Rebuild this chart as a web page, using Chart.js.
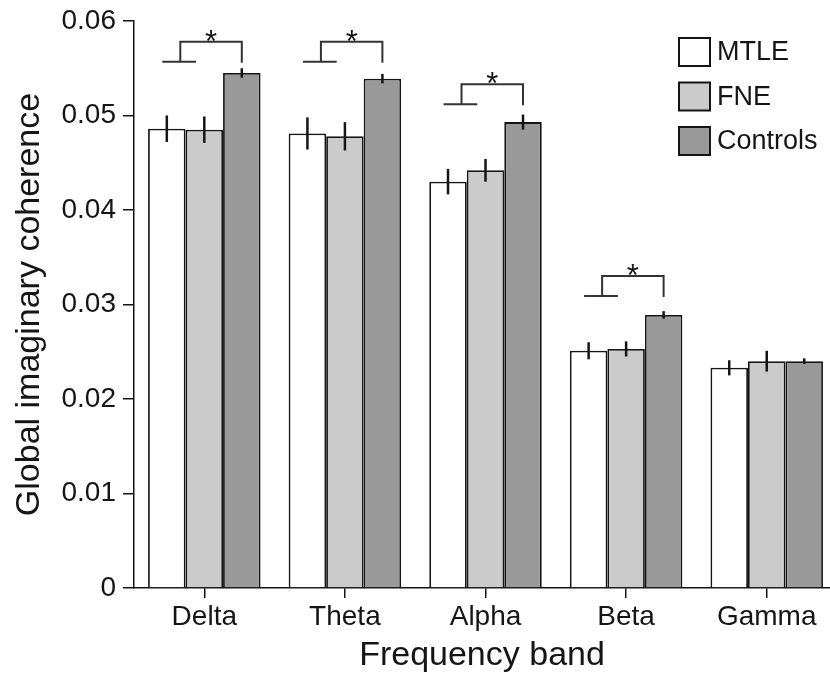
<!DOCTYPE html>
<html>
<head>
<meta charset="utf-8">
<title>Global imaginary coherence</title>
<script src="https://cdn.jsdelivr.net/npm/chart.js@4.4.1/dist/chart.umd.min.js"></script>
<style>
  html, body { margin: 0; padding: 0; background: #fff; overflow: hidden; }
  #chart { display: block; width: 830px; height: 676px; }
</style>
</head>
<body>
<canvas id="chart" width="830" height="676"></canvas>
<script>
// Datos
const bands = ["Delta", "Theta", "Alpha", "Beta", "Gamma"];
const groups = ["MTLE", "FNE", "Controls"];
const mtle = [0.0486, 0.0481, 0.0430, 0.0251, 0.0233];
const mtleErr = [0.0014, 0.0017, 0.00135, 0.0009, 0.0008];
const fne = [0.0485, 0.0478, 0.0442, 0.0253, 0.0240];
const fneErr = [0.0014, 0.0015, 0.0012, 0.0008, 0.0011];
const controls = [0.0545, 0.0539, 0.0493, 0.0289, 0.0240];
const controlsErr = [0.0005, 0.0005, 0.0008, 0.0004, 0.0003];
// nivel inferior de cada corchete de significancia (null = sin corchete)
const sigLevel = [0.0557, 0.0557, 0.0512, 0.0309, null];
const yTicks = [0, 0.01, 0.02, 0.03, 0.04, 0.05, 0.06];

const series = [mtle, fne, controls];
const errors = [mtleErr, fneErr, controlsErr];
const fills = ["#ffffff", "#cbcbcb", "#999999"];
const ink = "#151515";

Chart.defaults.font.family = "'Liberation Sans', Arial, sans-serif";
Chart.defaults.color = ink;

// Barras de error y corchetes con asterisco
const errorBars = {
  id: "errorBars",
  afterDatasetsDraw(chart) {
    const ctx = chart.ctx;
    const xs = chart.scales.x;
    const ys = chart.scales.y;
    ctx.save();
    ctx.strokeStyle = ink;
    ctx.lineWidth = 2.5;
    chart.data.datasets.forEach((ds, k) => {
      chart.getDatasetMeta(k).data.forEach((bar, i) => {
        const v = ds.data[i].y;
        const e = ds.err[i];
        ctx.beginPath();
        ctx.moveTo(bar.x, ys.getPixelForValue(v - e));
        ctx.lineTo(bar.x, ys.getPixelForValue(v + e));
        ctx.stroke();
      });
    });

    const ctrlMeta = chart.getDatasetMeta(2);
    ctx.strokeStyle = "#333";
    ctx.lineWidth = 2;
    ctx.fillStyle = ink;
    ctx.font = "31px 'Liberation Sans', Arial, sans-serif";
    ctx.textAlign = "center";
    ctx.textBaseline = "alphabetic";
    sigLevel.forEach((lvl, i) => {
      if (lvl === null) return;
      const bar = ctrlMeta.data[i];
      const bw = bar.width;
      const cx = xs.getPixelForValue(i);
      const yl = ys.getPixelForValue(lvl);
      const yt = yl - 20;
      const riser = cx - 0.64 * bw;
      ctx.beginPath();
      ctx.moveTo(cx - 1.12 * bw, yl);
      ctx.lineTo(cx - 0.22 * bw, yl);
      ctx.moveTo(riser, yl);
      ctx.lineTo(riser, yt);
      ctx.lineTo(bar.x, yt);
      ctx.lineTo(bar.x, yl + 1);
      ctx.stroke();
      ctx.fillText("*", (riser + bar.x) / 2, yt + 10);
    });
    ctx.restore();
  }
};

// Leyenda con cajas a la derecha
const boxLegend = {
  id: "boxLegend",
  afterDraw(chart) {
    const ctx = chart.ctx;
    ctx.save();
    ctx.font = "27px 'Liberation Sans', Arial, sans-serif";
    ctx.textBaseline = "middle";
    ctx.textAlign = "left";
    chart.data.datasets.forEach((ds, k) => {
      const top = 38 + k * 44.5;
      ctx.fillStyle = ds.backgroundColor;
      ctx.fillRect(679, top, 31, 28);
      ctx.strokeStyle = ink;
      ctx.lineWidth = 2;
      ctx.strokeRect(679, top, 31, 28);
      ctx.fillStyle = ink;
      ctx.fillText(ds.label, 717, top + 15);
    });
    ctx.restore();
  }
};

new Chart(document.getElementById("chart"), {
  type: "bar",
  data: {
    datasets: groups.map((g, k) => ({
      label: g,
      data: series[k].map((v, i) => ({ x: i, y: v })),
      err: errors[k],
      backgroundColor: fills[k],
      borderColor: ink,
      borderWidth: 1.8,
      categoryPercentage: 0.8,
      barPercentage: 1.0
    }))
  },
  options: {
    responsive: false,
    animation: false,
    layout: { padding: { top: 17, right: 0, left: 0, bottom: 0 } },
    plugins: {
      legend: { display: false },
      tooltip: { enabled: false }
    },
    scales: {
      x: {
        type: "linear",
        min: -0.5,
        max: 4.45,
        offset: false,
        afterBuildTicks: (axis) => {
          axis.ticks = bands.map((_, i) => ({ value: i }));
        },
        ticks: {
          callback: (v) => bands[v],
          font: { size: 28 },
          padding: 2,
          autoSkip: false,
          maxRotation: 0
        },
        grid: {
          offset: false,
          drawOnChartArea: false,
          tickLength: 10,
          color: ink,
          lineWidth: 1.5
        },
        border: { display: true, color: ink, width: 1.5 },
        title: {
          display: true,
          text: "Frequency band",
          font: { size: 34 },
          padding: { top: 2, bottom: 0 }
        },
        afterFit: (axis) => { axis.height = 88; }
      },
      y: {
        min: 0,
        max: 0.06,
        afterBuildTicks: (axis) => {
          axis.ticks = yTicks.map((v) => ({ value: v }));
        },
        ticks: {
          callback: (v) => (v === 0 ? "0" : v.toFixed(2)),
          font: { size: 28, lineHeight: 1 },
          padding: 7
        },
        grid: {
          drawOnChartArea: false,
          tickLength: 11,
          color: ink,
          lineWidth: 1.5
        },
        border: { display: true, color: ink, width: 1.5 },
        title: {
          display: true,
          text: "Global imaginary coherence",
          font: { size: 34 },
          padding: { top: 9, bottom: 0 }
        },
        afterFit: (axis) => { axis.width = 134; }
      }
    }
  },
  plugins: [errorBars, boxLegend]
});
</script>
</body>
</html>
